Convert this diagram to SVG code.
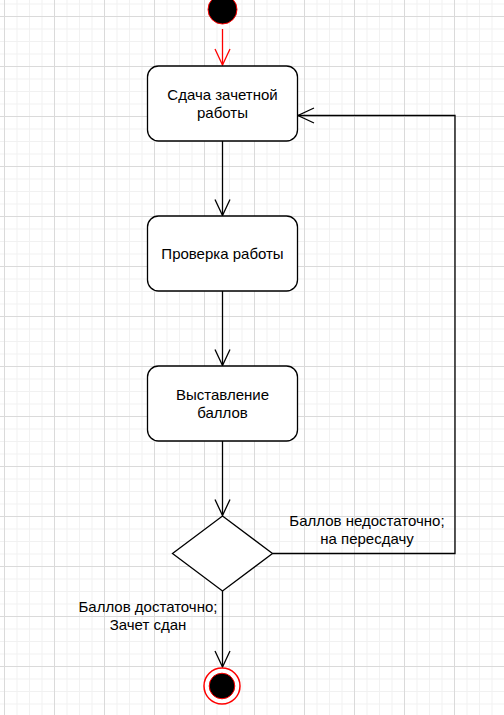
<svg xmlns="http://www.w3.org/2000/svg" width="504" height="715" viewBox="0 0 504 715">
<defs>
<pattern id="grid" x="4" y="16" width="50" height="50" patternUnits="userSpaceOnUse">
<path d="M13,0V50M25.5,0V50M38,0V50M0,13H50M0,25.5H50M0,38H50" stroke="#f1f1f1" stroke-width="1" fill="none"/>
<path d="M0.5,0V50M0,0.5H50" stroke="#dadada" stroke-width="1" fill="none"/>
</pattern>
<marker id="arr" markerUnits="userSpaceOnUse" markerWidth="20" markerHeight="20" viewBox="-18 -10 20 20" refX="0" refY="0" orient="auto" overflow="visible">
<path d="M-16,-7.5L0,0L-16,7.5" fill="none" stroke="#000" stroke-width="1.3"/>
</marker>
<marker id="arrRed" markerUnits="userSpaceOnUse" markerWidth="20" markerHeight="20" viewBox="-18 -10 20 20" refX="0" refY="0" orient="auto" overflow="visible">
<path d="M-16,-7.5L0,0L-16,7.5" fill="none" stroke="#ff0000" stroke-width="1.3"/>
</marker>
</defs>
<style>
.box{fill:#fff;stroke:#000;stroke-width:1.3}
.t{font-family:"Liberation Sans",Arial,sans-serif;font-size:15px;fill:#000;text-anchor:middle}
.c{fill:none;stroke:#000;stroke-width:1.3}
</style>
<rect width="504" height="715" fill="#fff"/>
<rect width="504" height="715" fill="url(#grid)"/>
<g id="connectors">
<path d="M222.5,29V65" stroke="#ff0000" stroke-width="1.3" fill="none" marker-end="url(#arrRed)"/>
<path class="c" d="M222.5,141V215.5" marker-end="url(#arr)"/>
<path class="c" d="M222.5,291V365.5" marker-end="url(#arr)"/>
<path class="c" d="M222.5,441V515.5" marker-end="url(#arr)"/>
<path class="c" d="M222.5,591V667" marker-end="url(#arr)"/>
<path class="c" d="M272.5,553.5H455V115.5H298" marker-end="url(#arr)"/>
</g>
<g id="start">
<circle cx="222.5" cy="9.5" r="14.5" fill="#000" stroke="#ff0000" stroke-width="1"/>
</g>
<g id="node1">
<rect class="box" x="147.5" y="66" width="150" height="75" rx="11"/>
<text class="t" x="222.5" y="100">Сдача зачетной</text>
<text class="t" x="222.5" y="118">работы</text>
</g>
<g id="node2">
<rect class="box" x="147.5" y="216" width="150" height="75" rx="11"/>
<text class="t" x="222.5" y="259">Проверка работы</text>
</g>
<g id="node3">
<rect class="box" x="147.5" y="366" width="150" height="75" rx="11"/>
<text class="t" x="222.5" y="400">Выставление</text>
<text class="t" x="222.5" y="418">баллов</text>
</g>
<g id="decision">
<path d="M222.5,516L272.5,553.5L222.5,591L172.5,553.5Z" fill="#fff" stroke="#000" stroke-width="1.3"/>
</g>
<g id="label-retry">
<text class="t" x="367" y="526">Баллов недостаточно;</text>
<text class="t" x="367" y="544">на пересдачу</text>
</g>
<g id="label-pass">
<text class="t" x="148" y="612">Баллов достаточно;</text>
<text class="t" x="148" y="630">Зачет сдан</text>
</g>
<g id="end">
<circle cx="222" cy="686" r="18" fill="#fff" stroke="#ff0000" stroke-width="1.5"/>
<circle cx="222" cy="686" r="12.8" fill="#000" stroke="#ff0000" stroke-width="1"/>
</g>
</svg>
